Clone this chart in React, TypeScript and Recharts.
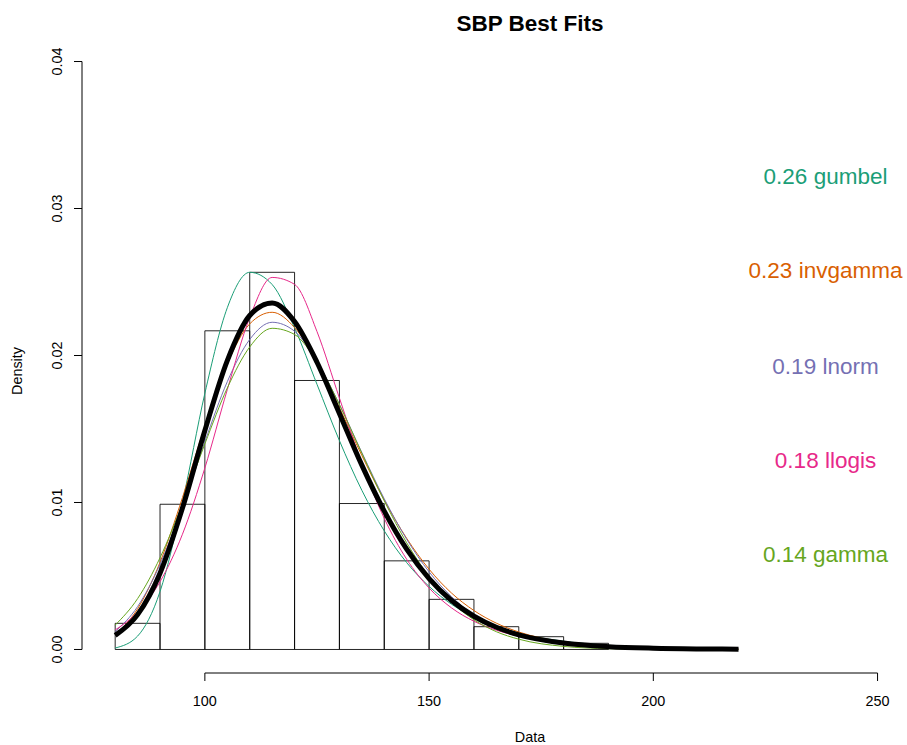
import {
  ComposedChart,
  Customized,
  Line,
  ReferenceArea,
  ReferenceDot,
  ReferenceLine,
  XAxis,
  YAxis,
} from "recharts";

// histogram bins (width 10) and their densities
const binStarts = [80, 90, 100, 110, 120, 130, 140, 150, 160, 170, 180];
const binWidth = 10;
const binDensity = [
  0.00178, 0.00988, 0.02168, 0.02566, 0.0183, 0.00993, 0.00603, 0.00341, 0.00155, 0.00087, 0.00042,
];

// x positions where the fitted curves were read
const xs = [
  80, 85, 90, 95, 100, 105, 110, 115, 120, 125, 130, 135, 140, 145, 150, 155, 160, 165, 170, 180, 190, 200, 210, 219,
];

const gumbel = [
  0.0001, 0.00091, 0.00394, 0.01002, 0.01743, 0.02325, 0.02566, 0.02483, 0.02188, 0.01804, 0.01421, 0.01083,
  0.00807, 0.00591, 0.00429, 0.00308, 0.0022, 0.00157, 0.00111, 0.00056, 0.00028, 0.00014, 0.00007, 0.00004,
];
const invgamma = [
  0.00101, 0.00277, 0.00593, 0.01033, 0.0152, 0.01944, 0.02215, 0.02294, 0.0219, 0.01957, 0.01645, 0.0132,
  0.01016, 0.00756, 0.00546, 0.00384, 0.00265, 0.00179, 0.00119, 0.00051, 0.00021, 0.000085, 0.000034, 0.000015,
];
const lnorm = [
  0.00122, 0.00292, 0.00579, 0.00971, 0.01414, 0.01822, 0.02109, 0.02226, 0.02165, 0.0196, 0.01667, 0.0134,
  0.01025, 0.0075, 0.00528, 0.00359, 0.00236, 0.00151, 0.00094, 0.00034, 0.00012, 0.00004, 0.00001, 0.000004,
];
const llogis = [
  0.00133, 0.00255, 0.00461, 0.00784, 0.01235, 0.01768, 0.02258, 0.02531, 0.02484, 0.02163, 0.01711, 0.01263,
  0.00892, 0.00614, 0.00418, 0.00283, 0.00192, 0.00131, 0.0009, 0.00043, 0.00022, 0.00011, 0.00006, 0.00003,
];
const gamma = [
  0.00166, 0.00346, 0.00624, 0.0099, 0.01399, 0.01779, 0.02058, 0.02185, 0.02143, 0.01954, 0.01666, 0.01335,
  0.01011, 0.00726, 0.00496, 0.00323, 0.00202, 0.00121, 0.0007, 0.00021, 0.000055, 0.000013, 0.000003, 0.000001,
];
// weighted best fit (thick black)
const bestFit = [
  0.00096, 0.00237, 0.00519, 0.00962, 0.0149, 0.01965, 0.02272, 0.02358, 0.02231, 0.01954, 0.01606, 0.01254,
  0.00941, 0.00682, 0.00482, 0.00333, 0.00226, 0.00151, 0.001, 0.00044, 0.00019, 0.000085, 0.000039, 0.000021,
];

const fitNames = ["gumbel", "invgamma", "lnorm", "llogis", "gamma"];
const fitWeights = ["0.26", "0.23", "0.19", "0.18", "0.14"];
const fitColors = ["#1B9E77", "#D95F02", "#7570B3", "#E7298A", "#66A61E"];
const fitSeries = [gumbel, invgamma, lnorm, llogis, gamma];

const xTicks = [100, 150, 200, 250];
const yTicks = [0, 0.01, 0.02, 0.03, 0.04];
const xDomain = [72.6, 272.4];
const yDomain = [-0.0016, 0.0416];

// where the weight labels sit, in data units
const labelX = 238.4;
const labelY = [0.0322, 0.0258, 0.0193, 0.0129, 0.0065];

const rows = xs.map((x, i) => {
  const row: Record<string, number> = { x, best: bestFit[i] };
  fitNames.forEach((n, k) => {
    row[n] = fitSeries[k][i];
  });
  return row;
});

const FONT = '"Liberation Sans", Arial, Helvetica, sans-serif';

function XTick({ x, y, payload }: any) {
  return (
    <text x={x} y={y + 25} textAnchor="middle" fontSize={14.4} fill="#000">
      {payload.value}
    </text>
  );
}

function YTick({ x, y, payload }: any) {
  const tx = x - 12;
  return (
    <text
      x={tx}
      y={y}
      transform={`rotate(-90 ${tx} ${y})`}
      textAnchor="middle"
      fontSize={14.4}
      fill="#000"
    >
      {Number(payload.value).toFixed(2)}
    </text>
  );
}

function Title() {
  return (
    <text x={530} y={31} textAnchor="middle" fontSize={22.5} fontWeight="bold" fill="#000">
      SBP Best Fits
    </text>
  );
}

export default function App() {
  return (
    <div
      style={{
        position: "absolute",
        left: 0,
        top: 0,
        width: 907,
        height: 745,
        overflow: "hidden",
        background: "#fff",
        fontFamily: FONT,
      }}
    >
      <ComposedChart width={1000} height={745} data={rows} margin={{ top: 38, right: 22, bottom: 0, left: 0 }}>
        <XAxis
          dataKey="x"
          type="number"
          domain={xDomain}
          ticks={xTicks}
          axisLine={false}
          tickLine={{ stroke: "#000" }}
          tickSize={8}
          tickMargin={0}
          height={72}
          tick={<XTick />}
          label={({ viewBox }: any) => (
            <text x={viewBox.x + viewBox.width / 2} y={viewBox.y + 69} textAnchor="middle" fontSize={14.4} fill="#000">
              Data
            </text>
          )}
        />
        <YAxis
          type="number"
          domain={yDomain}
          ticks={yTicks}
          axisLine={false}
          tickLine={{ stroke: "#000" }}
          tickSize={8}
          tickMargin={0}
          width={82}
          tick={<YTick />}
          label={() => (
            <text x={22} y={371} transform="rotate(-90 22 371)" textAnchor="middle" fontSize={14.4} fill="#000">
              Density
            </text>
          )}
        />
        <ReferenceLine
          segment={[
            { x: xTicks[0], y: yDomain[0] },
            { x: xTicks[xTicks.length - 1], y: yDomain[0] },
          ]}
          stroke="#000"
          ifOverflow="visible"
        />
        <ReferenceLine
          segment={[
            { x: xDomain[0], y: yTicks[0] },
            { x: xDomain[0], y: yTicks[yTicks.length - 1] },
          ]}
          stroke="#000"
          ifOverflow="visible"
        />
        {binStarts.map((b, i) => (
          <ReferenceArea
            key={b}
            x1={b}
            x2={b + binWidth}
            y1={0}
            y2={binDensity[i]}
            fill="none"
            fillOpacity={0}
            stroke="#000"
            strokeWidth={1}
            strokeOpacity={0.85}
            ifOverflow="visible"
          />
        ))}
        {fitNames.map((n, k) => (
          <Line
            key={n}
            type="monotone"
            dataKey={n}
            stroke={fitColors[k]}
            strokeWidth={1}
            dot={false}
            activeDot={false}
            isAnimationActive={false}
          />
        ))}
        <Line
          type="monotone"
          dataKey="best"
          stroke="#000"
          strokeWidth={5}
          dot={false}
          activeDot={false}
          isAnimationActive={false}
        />
        {fitNames.map((n, k) => (
          <ReferenceDot
            key={"lab-" + n}
            x={labelX}
            y={labelY[k]}
            r={0}
            fill="none"
            stroke="none"
            ifOverflow="visible"
            label={{
              value: `${fitWeights[k]} ${n}`,
              position: "center",
              fill: fitColors[k],
              fontSize: 22.5,
            }}
          />
        ))}
        <Customized component={Title} />
      </ComposedChart>
    </div>
  );
}
